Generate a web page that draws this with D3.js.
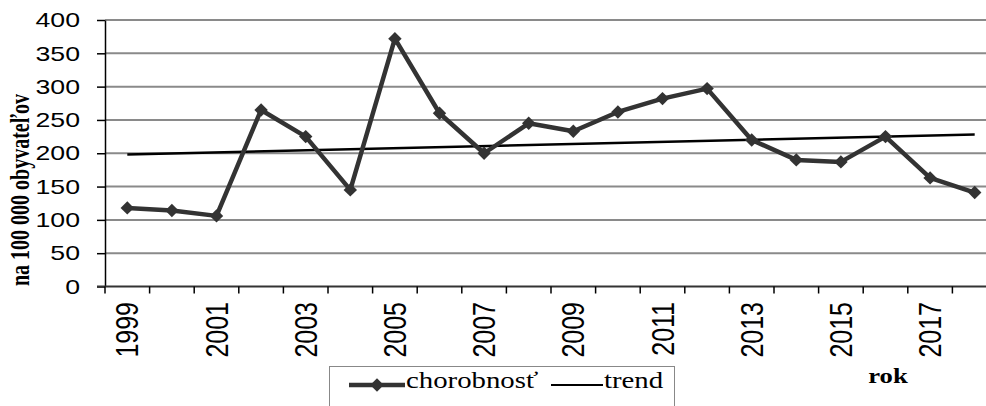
<!DOCTYPE html>
<html>
<head>
<meta charset="utf-8">
<script src="https://cdn.jsdelivr.net/npm/d3@7"></script>
<style>
  body { margin: 0; background: #fff; }
  svg { display: block; }
</style>
</head>
<body>
<div id="chart"></div>
<script>
// data
var years = [1999, 2000, 2001, 2002, 2003, 2004, 2005, 2006, 2007, 2008,
             2009, 2010, 2011, 2012, 2013, 2014, 2015, 2016, 2017, 2018];
var chorobnost = [118, 114, 106, 265, 225, 145, 372, 260, 200, 245,
                  233, 262, 282, 297, 220, 190, 187, 225, 163, 141];
var trendYears = [1999, 2018];
var trendValues = [198, 228];
var yTicks = [0, 50, 100, 150, 200, 250, 300, 350, 400];
var xLabels = [1999, 2001, 2003, 2005, 2007, 2009, 2011, 2013, 2015, 2017];

var width = 986, height = 406;
var sx = 1.27; // the source picture is stretched horizontally
var sans = "'Liberation Sans', Arial, sans-serif",
    serif = "'Liberation Serif', 'Times New Roman', serif";

var svg = d3.select("#chart")
    .append("svg")
    .attr("width", width)
    .attr("height", height);

var x = d3.scaleBand().domain(years).range([105, 997]).padding(0);
var y = d3.scaleLinear().domain([0, 400]).range([286.5, 20]);
var cx = function (d) { return x(d) + x.bandwidth() / 2; };

// gridlines
svg.append("g")
    .selectAll("line")
    .data(yTicks.filter(function (d) { return d > 0; }))
    .enter()
    .append("line")
    .attr("x1", 105).attr("x2", 997)
    .attr("y1", function (d) { return y(d); })
    .attr("y2", function (d) { return y(d); })
    .attr("stroke", "#8a8a8a")
    .attr("stroke-width", 2);

// y axis
var yAxis = svg.append("g")
    .attr("transform", "translate(105,0)")
    .call(d3.axisLeft(y).tickValues(yTicks).tickSize(8).tickSizeOuter(0));
yAxis.select(".domain").attr("stroke", "#000").attr("stroke-width", 1.5);
yAxis.selectAll(".tick line").attr("stroke", "#000").attr("stroke-width", 1.5);
yAxis.selectAll(".tick text")
    .attr("x", -25 / sx)
    .attr("transform", "scale(" + sx + ",1)")
    .style("font", "21px " + sans)
    .attr("fill", "#000");

// x axis: ticks between categories
var xAxis = svg.append("g").attr("transform", "translate(0," + y(0) + ")");
xAxis.append("line")
    .attr("x1", 97).attr("x2", 997)
    .attr("stroke", "#333").attr("stroke-width", 2);
xAxis.selectAll(".xtick")
    .data(years.concat([null]))
    .enter()
    .append("line")
    .attr("class", "xtick")
    .attr("x1", function (d) { return d === null ? x.range()[1] : x(d); })
    .attr("x2", function (d) { return d === null ? x.range()[1] : x(d); })
    .attr("y1", 0).attr("y2", 7)
    .attr("stroke", "#000").attr("stroke-width", 1.5);

svg.append("g")
    .selectAll("text")
    .data(xLabels)
    .enter()
    .append("text")
    .attr("transform", function (d) {
        return "translate(" + (cx(d) + 11) + ",302) scale(" + sx + ",1) rotate(-90)";
    })
    .attr("text-anchor", "end")
    .style("font", "25px " + sans)
    .text(function (d) { return d; });

// trend line
var trendData = trendYears.map(function (d, i) { return { year: d, v: trendValues[i] }; });
svg.append("path")
    .datum(trendData)
    .attr("fill", "none")
    .attr("stroke", "#000")
    .attr("stroke-width", 2.5)
    .attr("d", d3.line()
        .x(function (d) { return cx(d.year); })
        .y(function (d) { return y(d.v); }));

// series line
var series = years.map(function (d, i) { return { year: d, v: chorobnost[i] }; });
svg.append("path")
    .datum(series)
    .attr("fill", "none")
    .attr("stroke", "#333")
    .attr("stroke-width", 4.5)
    .attr("stroke-linejoin", "round")
    .attr("d", d3.line()
        .x(function (d) { return cx(d.year); })
        .y(function (d) { return y(d.v); }));

var diamond = d3.symbol().type(d3.symbolSquare).size(90);
svg.append("g")
    .selectAll("path")
    .data(series)
    .enter()
    .append("path")
    .attr("d", diamond)
    .attr("transform", function (d) {
        return "translate(" + cx(d.year) + "," + y(d.v) + ") rotate(45)";
    })
    .attr("fill", "#333");

// axis titles
svg.append("text")
    .attr("transform", "translate(29,190) scale(1.4,1) rotate(-90)")
    .attr("text-anchor", "middle")
    .style("font", "bold 20px " + serif)
    .text("na 100 000 obyvateľov");

svg.append("text")
    .attr("transform", "translate(888,383) scale(" + sx + ",1)")
    .attr("text-anchor", "middle")
    .style("font", "bold 21px " + serif)
    .text("rok");

// legend
var legend = svg.append("g");
legend.append("rect")
    .attr("x", 329.5).attr("y", 366.5)
    .attr("width", 345).attr("height", 60)
    .attr("fill", "#fff")
    .attr("stroke", "#888");
legend.append("line")
    .attr("x1", 349).attr("x2", 405)
    .attr("y1", 385).attr("y2", 385)
    .attr("stroke", "#333").attr("stroke-width", 4.5);
legend.append("path")
    .attr("d", diamond)
    .attr("transform", "translate(377,385) rotate(45)")
    .attr("fill", "#333");
legend.append("text")
    .attr("transform", "translate(406,388) scale(1.2,1)")
    .style("font", "24px " + serif)
    .text("chorobnosť");
legend.append("line")
    .attr("x1", 551).attr("x2", 603)
    .attr("y1", 385).attr("y2", 385)
    .attr("stroke", "#000").attr("stroke-width", 2);
legend.append("text")
    .attr("transform", "translate(604,388) scale(1.2,1)")
    .style("font", "24px " + serif)
    .text("trend");
</script>
</body>
</html>
